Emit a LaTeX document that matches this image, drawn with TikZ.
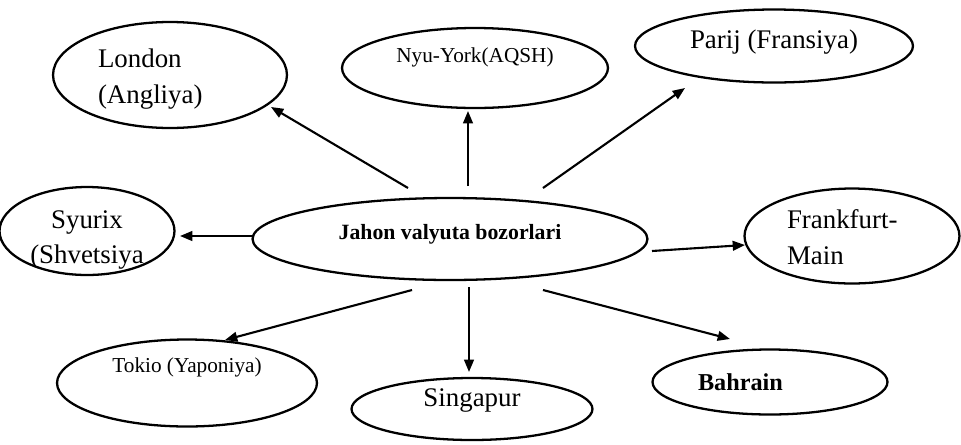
\documentclass[tikz,border=0pt]{standalone}
\usepackage{fontspec}
\setmainfont{Liberation Serif}
\usetikzlibrary{arrows.meta,shapes.geometric}

\begin{document}
\begin{tikzpicture}[x=0.02cm,y=-0.02cm,
  bozor/.style={draw,ellipse,line width=1.3pt,inner sep=0pt,
    font=\fontsize{15.3}{20}\selectfont},
  kichik/.style={font=\fontsize{12.1}{15}\selectfont},
  strelka/.style={line width=1.2pt,-{Triangle[length=7pt,width=5.5pt]}}]
  \useasboundingbox (0,0) rectangle (961,444);
  \clip (0,0) rectangle (961,444);
  % Markaz
  \node[bozor,minimum width=7.9cm,minimum height=1.64cm,
    font=\bfseries\fontsize{12.4}{15}\selectfont,
    text height=1.1pt,text depth=0pt] (jahon) at (450,239) {Jahon valyuta bozorlari};
  % Bozorlar
  \node[bozor,minimum width=4.68cm,minimum height=2.12cm,align=left,text width=2.88cm,
    text height=0pt,text depth=8pt] (london) at (170,75) {London\\(Angliya)};
  \node[bozor,kichik,minimum width=5.32cm,minimum height=1.6cm,
    text height=0pt,text depth=5.7pt] (nyuyork) at (475,68) {Nyu-York(AQSH)};
  \node[bozor,minimum width=5.56cm,minimum height=1.46cm,
    text height=2.3pt,text depth=0pt] (parij) at (774,46) {Parij (Fransiya)};
  \node[bozor,minimum width=3.5cm,minimum height=1.76cm,align=center,text width=2.4cm,
    text height=0pt,text depth=3.4pt] (syurix) at (87,231) {Syurix\\(Shvetsiya};
  \node[bozor,minimum width=4.3cm,minimum height=1.9cm,align=left,text width=2.6cm,
    text height=0pt,text depth=8pt] (frankfurt) at (852,236) {Frankfurt-\\Main};
  \node[bozor,kichik,minimum width=5.2cm,minimum height=1.74cm,
    text height=0pt,text depth=11.4pt] (tokio) at (187,383) {Tokio (Yaponiya)};
  \node[bozor,minimum width=4.82cm,minimum height=1.24cm,
    text height=0pt,text depth=2.3pt] (singapur) at (472,409) {Singapur};
  \node[bozor,minimum width=4.7cm,minimum height=1.3cm,align=left,text width=2.88cm,
    font=\bfseries\fontsize{13.8}{17}\selectfont,
    text height=9.1pt,text depth=0pt] (bahrain) at (770,382) {Bahrain};
  % Strelkalar
  \draw[strelka] ([shift={(-42,-51)}]jahon.center) -- ([shift={(101,32)}]london.center);
  \draw[strelka] ([shift={(18,-53)}]jahon.center) -- ([shift={(-7,43)}]nyuyork.center);
  \draw[strelka] ([shift={(93,-51)}]jahon.center) -- ([shift={(-89,42)}]parij.center);
  \draw[strelka] ([shift={(-197,-3)}]jahon.center) -- ([shift={(93,5)}]syurix.center);
  \draw[strelka] ([shift={(202,12)}]jahon.center) -- ([shift={(-107,9)}]frankfurt.center);
  \draw[strelka] ([shift={(-38,51)}]jahon.center) -- ([shift={(38,-43)}]tokio.center);
  \draw[strelka] ([shift={(19,48)}]jahon.center) -- ([shift={(-3,-37)}]singapur.center);
  \draw[strelka] ([shift={(93,51)}]jahon.center) -- ([shift={(-40,-43)}]bahrain.center);
\end{tikzpicture}
\end{document}
